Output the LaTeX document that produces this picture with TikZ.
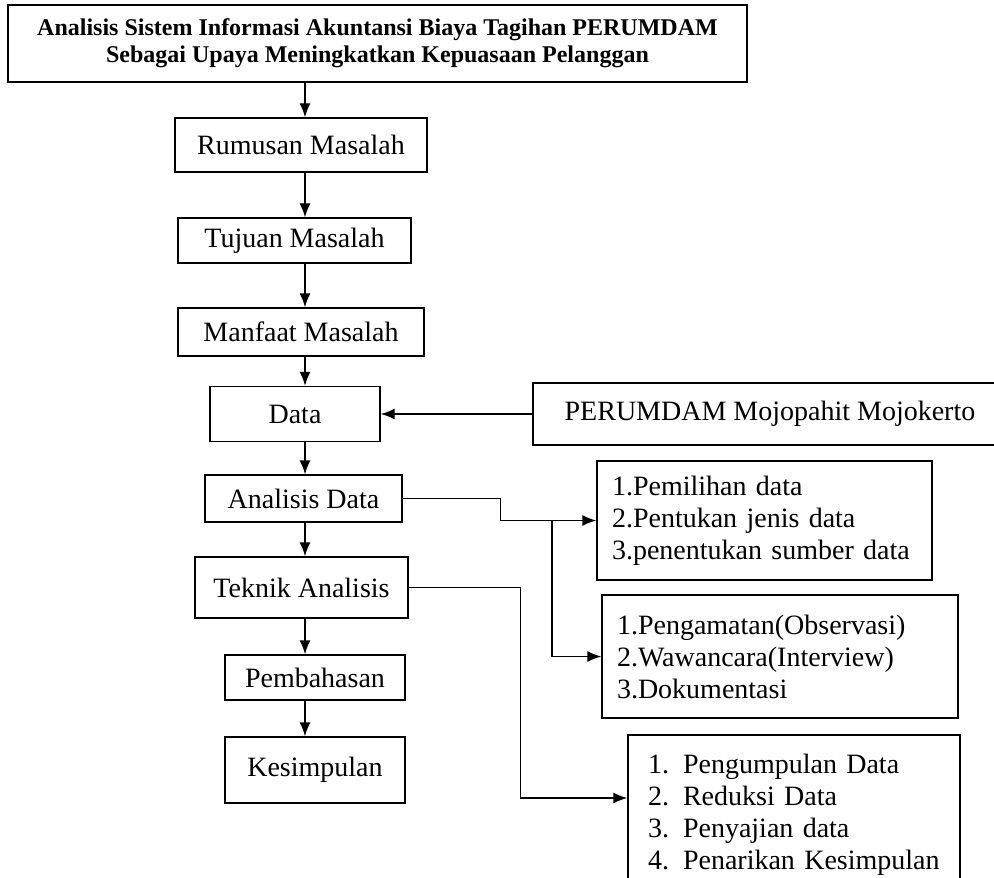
\documentclass[tikz,border=0pt]{standalone}
\usepackage{fontspec}
\setmainfont{Liberation Serif}
\usetikzlibrary{arrows.meta}

\begin{document}
\begin{tikzpicture}[x=0.5pt,y=-0.5pt,>={Latex[length=7pt,width=5.5pt]},line width=0.7pt,box node/.style={draw,inner sep=0pt,font=\fontsize{14}{16}\selectfont},list node/.style={draw,inner ysep=0pt,align=left,font=\fontsize{14}{16}\selectfont}]

  \useasboundingbox (0,0) rectangle (994,877);
  \coordinate (axis) at (305,0);

  \node[box node,align=center,font=\bfseries\fontsize{12}{13.5}\selectfont,minimum width=369.5pt,minimum height=38.5pt] (judul) at (377.5,43.5) {Analisis Sistem Informasi Akuntansi Biaya Tagihan PERUMDAM\\Sebagai Upaya Meningkatkan Kepuasaan Pelanggan};
  \node[box node,minimum width=126pt,minimum height=27pt] (rm) at (301,145) {Rumusan Masalah};
  \node[box node,minimum width=116.5pt,minimum height=22.5pt] (tm) at (294.5,240.5) {Tujuan Masalah};
  \node[box node,minimum width=123pt,minimum height=24pt] (mm) at (301,332) {Manfaat Masalah};
  \node[box node,minimum width=85pt,minimum height=27.5pt] (data) at (295,414) {Data};
  \node[box node,minimum width=98.5pt,minimum height=23.5pt] (ad) at (303.5,498.5) {Analisis Data};
  \node[box node,minimum width=106.5pt,minimum height=30.5pt] (ta) at (301.5,587.5) {Teknik Analisis};
  \node[box node,minimum width=90pt,minimum height=22.5pt] (pb) at (315,677.5) {Pembahasan};
  \node[box node,minimum width=90pt,minimum height=33pt] (ks) at (315,770) {Kesimpulan};

  \node[box node,minimum width=237pt,minimum height=31pt] (pm) at (770,414) {PERUMDAM Mojopahit Mojokerto};
  \node[list node,inner xsep=7.5pt,text width=152.5pt,minimum height=59.5pt] (b1) at (764.5,520.5) {1.Pemilihan data\\2.Pentukan jenis data\\3.penentukan sumber data};
  \node[list node,inner xsep=7.5pt,text width=163pt,minimum height=61.5pt] (b2) at (780,656.5) {1.Pengamatan(Observasi)\\2.Wawancara(Interview)\\3.Dokumentasi};
  \node[list node,inner xsep=10pt,text width=146pt,minimum height=80pt] (b3) at (794,815) {1. Pengumpulan Data\\2. Reduksi Data\\3. Penyajian data\\4. Penarikan Kesimpulan};

  \path[->]
    (judul.south -| axis) edge (rm.north -| axis)
    (rm.south -| axis) edge (tm.north -| axis)
    (tm.south -| axis) edge (mm.north -| axis)
    (mm.south -| axis) edge (data.north -| axis)
    (data.south -| axis) edge (ad.north -| axis)
    (ad.south -| axis) edge (ta.north -| axis)
    (ta.south -| axis) edge (pb.north -| axis)
    (pb.south -| axis) edge (ks.north -| axis);

  \draw[->] (pm.west) -- (data.east);
  \draw[->] (ad.east) -- ++(98,0) |- (b1.west);
  \coordinate (cabang) at (552,520.5);
  \draw[->] (cabang) |- (b2.west);
  \draw[->] (ta.east) -- ++(112,0) |- ([yshift=8.5pt]b3.west);
\end{tikzpicture}
\end{document}
